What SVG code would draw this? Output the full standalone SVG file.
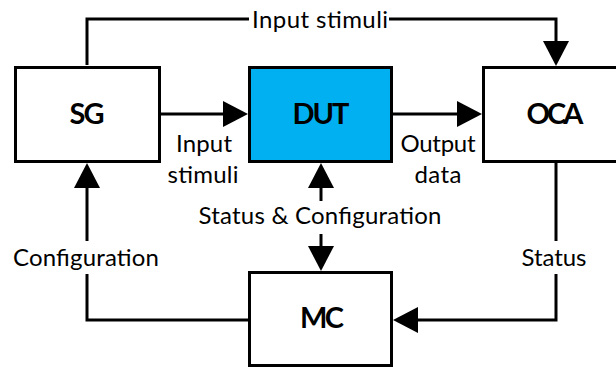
<svg xmlns="http://www.w3.org/2000/svg" width="616" height="367" viewBox="0 0 616 367">
<style>
.box{stroke:#000;stroke-width:3;fill:#fff}
.dut{fill:#00B0F0}
.lbl{font-family:Lato,"Open Sans",sans-serif;font-size:24px;fill:#000;text-anchor:middle}
.title{font-family:Lato,"Open Sans",sans-serif;font-size:29px;font-weight:bold;fill:#000;text-anchor:middle}
.conn{stroke:#000;stroke-width:3;fill:none;marker-end:url(#arr)}
</style>
<defs>
<marker id="arr" markerUnits="userSpaceOnUse" markerWidth="26" markerHeight="26" viewBox="0 0 25 26" refX="0" refY="13" orient="auto">
<path d="M0,0 L25,13 L0,26 Z" fill="#000"/>
</marker>
</defs>
<rect width="616" height="367" fill="#fff"/>
<g id="connectors">
<path class="conn" d="M87,65 V19 H249 M389,19 H556 V41"/>
<path class="conn" d="M161,114 H223"/>
<path class="conn" d="M393,114 H457"/>
<path class="conn" d="M248,320 H87 V274 M87,241 V188"/>
<path class="conn" d="M556,163 V241 M556,274 V320 H418"/>
<path class="conn" d="M321,201 V188"/>
<path class="conn" d="M321,234 V246"/>
</g>
<g id="labels">
<text class="lbl" x="320" y="28" textLength="136">Input stimuli</text>
<text class="lbl" x="204" y="152" textLength="56">Input</text>
<text class="lbl" x="203" y="183" textLength="71">stimuli</text>
<text class="lbl" x="438" y="152" textLength="75">Output</text>
<text class="lbl" x="438" y="183" textLength="47">data</text>
<text class="lbl" x="320" y="224" textLength="243">Status &amp; Configuration</text>
<text class="lbl" x="86" y="266" textLength="146">Configuration</text>
<text class="lbl" x="554" y="266" textLength="65">Status</text>
</g>
<g id="SG">
<rect class="box" x="15.5" y="67.5" width="144" height="94"/>
<text class="title" x="87" y="124" textLength="35">SG</text>
</g>
<g id="DUT">
<rect class="box dut" x="249.5" y="67.5" width="142" height="94"/>
<text class="title" x="321" y="124" textLength="57">DUT</text>
</g>
<g id="OCA">
<rect class="box" x="483.5" y="67.5" width="150" height="94"/>
<text class="title" x="555" y="124" textLength="57">OCA</text>
</g>
<g id="MC">
<rect class="box" x="249.5" y="272.5" width="142" height="93"/>
<text class="title" x="322" y="328" textLength="44">MC</text>
</g>
</svg>
